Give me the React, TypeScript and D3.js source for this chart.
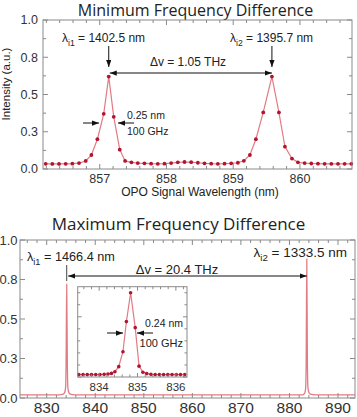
import React from 'react';
import * as d3 from 'd3';

// ---------- data ----------
const topWl = [856.19, 856.29, 856.39, 856.49, 856.59, 856.69, 856.79, 856.875, 856.965, 857.06, 857.135, 857.21, 857.3, 857.38, 857.475, 857.57, 857.67, 857.77, 857.87, 857.97, 858.07, 858.17, 858.27, 858.37, 858.47, 858.57, 858.67, 858.77, 858.87, 858.97, 859.07, 859.16, 859.25, 859.34, 859.45, 859.58, 859.685, 859.775, 859.88, 859.97, 860.07, 860.17, 860.27, 860.37, 860.47, 860.57, 860.67, 860.77];
const topInt = [0.035, 0.034, 0.034, 0.035, 0.036, 0.04, 0.054, 0.094, 0.2, 0.37, 0.62, 0.35, 0.13, 0.054, 0.045, 0.04, 0.038, 0.036, 0.035, 0.036, 0.04, 0.045, 0.047, 0.046, 0.042, 0.038, 0.036, 0.035, 0.036, 0.038, 0.042, 0.055, 0.094, 0.2, 0.38, 0.62, 0.38, 0.15, 0.07, 0.045, 0.04, 0.037, 0.036, 0.035, 0.035, 0.035, 0.035, 0.035];

const botWl = [824.5, 832.5, 833.4, 833.7, 833.9, 834.0, 834.12, 834.24, 834.35, 834.55, 834.85, 835.8, 881.3, 882.7, 883.0, 883.2, 883.35, 883.45, 883.57, 883.69, 883.8, 884.0, 884.3, 885.3, 893.5];
const botInt = [0.02, 0.02, 0.025, 0.035, 0.07, 0.25, 0.72, 0.25, 0.07, 0.035, 0.025, 0.02, 0.02, 0.02, 0.025, 0.035, 0.07, 0.25, 0.88, 0.25, 0.07, 0.035, 0.025, 0.02, 0.02];

const insetWl = [833.47, 833.58, 833.69, 833.8, 833.91, 834.02, 834.13, 834.23, 834.32, 834.41, 834.51, 834.62, 834.71, 834.82, 834.94, 835.04, 835.14, 835.24, 835.35, 835.46, 835.57, 835.68, 835.79, 835.9, 836.01, 836.12, 836.23];
const insetInt = [0.02, 0.02, 0.02, 0.02, 0.02, 0.02, 0.022, 0.025, 0.03, 0.044, 0.086, 0.21, 0.46, 0.7, 0.41, 0.09, 0.04, 0.028, 0.022, 0.02, 0.02, 0.02, 0.02, 0.02, 0.02, 0.02, 0.02];

const yTicks = [0, 0.25, 0.5, 0.75, 1];
const yTickLabels = ['0.0', '0.3', '0.5', '0.8', '1.0'];
const topXTicks = [857, 858, 859, 860];
const botXTicks = [830, 840, 850, 860, 870, 880, 890];
const insetXTicks = [834, 835, 836];

const FRAME = '#8a8a8a';
const LINE = '#e27b83';
const DOT = '#b0142e';
const TXT = '#222';
const SANS = "'Liberation Sans', Arial, sans-serif";
const TITLE = "'Open Sans', 'Noto Sans', sans-serif";

type Sc = d3.ScaleLinear<number, number>;

function Frame({ x, y, xMinorStep, yMinorStep, major = 5, minor = 3 }: { x: Sc; y: Sc; xMinorStep: number; yMinorStep: number; major?: number; minor?: number }) {
  const [x0, x1] = x.range();
  const [y0, y1] = y.range();
  const [dx0, dx1] = x.domain();
  const [dy0, dy1] = y.domain();
  const xs: { v: number; maj: boolean }[] = [];
  for (let v = Math.ceil(dx0 / xMinorStep) * xMinorStep; v <= dx1 + 1e-9; v += xMinorStep) {
    const r = Math.round(v * 1000) / 1000;
    xs.push({ v: r, maj: Math.abs(r - Math.round(r / (xMinorStep * 5)) * xMinorStep * 5) < 1e-6 });
  }
  const ys: { v: number; maj: boolean }[] = [];
  for (let v = Math.ceil(dy0 / yMinorStep) * yMinorStep; v <= dy1 + 1e-9; v += yMinorStep) {
    const r = Math.round(v * 1000) / 1000;
    ys.push({ v: r, maj: Math.abs(r / 0.25 - Math.round(r / 0.25)) < 1e-6 });
  }
  return (
    <g stroke={FRAME} strokeWidth={1} fill="none">
      <rect x={x0} y={y1} width={x1 - x0} height={y0 - y1} />
      {xs.map((t, i) => {
        const px = x(t.v);
        const l = t.maj ? major : minor;
        return (
          <g key={'x' + i}>
            <line x1={px} x2={px} y1={y0} y2={y0 - l} />
            <line x1={px} x2={px} y1={y1} y2={y1 + l} />
          </g>
        );
      })}
      {ys.map((t, i) => {
        const py = y(t.v);
        const l = t.maj ? major : minor;
        return (
          <g key={'y' + i}>
            <line x1={x0} x2={x0 + l} y1={py} y2={py} />
            <line x1={x1} x2={x1 - l} y1={py} y2={py} />
          </g>
        );
      })}
    </g>
  );
}

function Lam({ x, y, sub, rest, fs, anchor = 'start' }: { x: number; y: number; sub: string; rest: string; fs: number; anchor?: string }) {
  return (
    <text x={x} y={y} fontSize={fs} textAnchor={anchor} fill={TXT} fontFamily={SANS}>
      λ
      <tspan dy={fs * 0.3} fontSize={fs * 0.72}>{sub}</tspan>
      <tspan dy={-fs * 0.3}>{rest}</tspan>
    </text>
  );
}

export default function App() {
  const W = 357, H = 417;

  const tx = d3.scaleLinear().domain([856.15, 860.78]).range([43, 352]);
  const ty = d3.scaleLinear().domain([0, 1]).range([169, 20]);
  const topPts = topWl.map((w, i) => [w, topInt[i]] as [number, number]);
  const topLine = d3.line<[number, number]>().x(d => tx(d[0])).y(d => ty(d[1]));

  const bx = d3.scaleLinear().domain([824.5, 893.5]).range([20, 355]);
  const by = d3.scaleLinear().domain([0, 1]).range([398, 240]);
  const botPts = botWl.map((w, i) => [w, botInt[i]] as [number, number]);
  const botLine = d3.line<[number, number]>().x(d => bx(d[0])).y(d => by(d[1])).curve(d3.curveMonotoneX);

  const ix = d3.scaleLinear().domain([833.44, 836.29]).range([77.7, 187]);
  const iy = d3.scaleLinear().domain([0, 0.75]).range([377, 286.7]);
  const insPts = insetWl.map((w, i) => [w, insetInt[i]] as [number, number]);
  const insLine = d3.line<[number, number]>().x(d => ix(d[0])).y(d => iy(d[1]));

  const p1 = tx(857.135), p2 = tx(859.58);
  const b1 = bx(834.12), b2 = bx(883.57);

  return (
    <svg width={W} height={H} style={{ position: 'absolute', left: 0, top: 0, background: '#fff' }}>
      <defs>
        <marker id="ah" viewBox="0 0 8 6" refX={8} refY={3} markerWidth={7} markerHeight={5.5} markerUnits="userSpaceOnUse" orient="auto-start-reverse">
          <path d="M0,0 L8,3 L0,6 z" fill="#111" />
        </marker>
      </defs>
      <rect x={0} y={0} width={W} height={H} fill="#fff" />

      {/* ---------- TOP ---------- */}
      <text x={195.5} y={15.5} textAnchor="middle" fontSize={16} fontFamily={TITLE} fill={TXT}>Minimum Frequency Difference</text>
      <path d={topLine(topPts) || ''} fill="none" stroke={LINE} strokeWidth={1.2} />
      {topPts.map((d, i) => (
        <circle key={i} cx={tx(d[0])} cy={ty(d[1])} r={1.9} fill={DOT} />
      ))}
      <Frame x={tx} y={ty} xMinorStep={0.2} yMinorStep={0.125} />
      {yTicks.map((v, i) => (
        <text key={i} x={38} y={ty(v) + 4.3} textAnchor="end" fontSize={12.5} fontFamily={SANS} fill="#333">{yTickLabels[i]}</text>
      ))}
      {topXTicks.map(v => (
        <text key={v} x={tx(v)} y={183} textAnchor="middle" fontSize={12.5} fontFamily={SANS} fill="#333">{v}</text>
      ))}
      <text x={200} y={195.5} textAnchor="middle" fontSize={12} fontFamily={SANS} fill={TXT}>OPO Signal Wavelength (nm)</text>
      <text transform="translate(10,84) rotate(-90)" textAnchor="middle" fontSize={11.5} fontFamily={SANS} fill={TXT}>Intensity (a.u.)</text>

      <Lam x={62} y={42} sub="i1" rest=" = 1402.5 nm" fs={12} />
      <Lam x={230} y={42} sub="i2" rest=" = 1395.7 nm" fs={12} />
      <line x1={p1} x2={p1} y1={46} y2={67} stroke="#111" strokeWidth={1} markerEnd="url(#ah)" />
      <line x1={p2} x2={p2} y1={46} y2={67} stroke="#111" strokeWidth={1} markerEnd="url(#ah)" />
      <text x={188} y={66} textAnchor="middle" fontSize={12} fontFamily={SANS} fill={TXT}>Δv = 1.05 THz</text>
      <line x1={p1 + 1} x2={p2} y1={73} y2={73} stroke="#111" strokeWidth={1} markerStart="url(#ah)" markerEnd="url(#ah)" />
      <line x1={83} x2={99} y1={123} y2={123} stroke="#111" strokeWidth={1} markerEnd="url(#ah)" />
      <line x1={134} x2={118} y1={123} y2={123} stroke="#111" strokeWidth={1} markerEnd="url(#ah)" />
      <text x={127} y={118.5} fontSize={10.5} fontFamily={SANS} fill={TXT}>0.25 nm</text>
      <text x={127} y={135} fontSize={10.5} fontFamily={SANS} fill={TXT}>100 GHz</text>

      {/* ---------- BOTTOM ---------- */}
      <text x={178.5} y={230} textAnchor="middle" fontSize={17} fontFamily={TITLE} fill={TXT}>Maximum Frequency Difference</text>
      <path d={botLine(botPts) || ''} fill="none" stroke={LINE} strokeWidth={1.3} />
      <Frame x={bx} y={by} xMinorStep={2} yMinorStep={0.125} />
      {yTicks.map((v, i) => (
        <text key={i} x={17.5} y={by(v) + 4.6} textAnchor="end" fontSize={13} fontFamily={SANS} fill="#333">{yTickLabels[i]}</text>
      ))}
      {botXTicks.map(v => (
        <text key={v} x={bx(v)} y={413} textAnchor="middle" fontSize={15.5} fontFamily={SANS} fill="#333">{v}</text>
      ))}
      <Lam x={27} y={261} sub="i1" rest=" = 1466.4 nm" fs={12.7} />
      <Lam x={347} y={257} sub="i2" rest=" = 1333.5 nm" fs={13.5} anchor="end" />
      <line x1={b1} x2={b1} y1={265} y2={281} stroke="#444" strokeWidth={1} />
      <text x={177} y={274} textAnchor="middle" fontSize={13} fontFamily={SANS} fill={TXT}>Δv = 20.4 THz</text>
      <line x1={b1 + 1.5} x2={b2} y1={276} y2={276} stroke="#111" strokeWidth={1} markerStart="url(#ah)" markerEnd="url(#ah)" />

      {/* inset */}
      <rect x={77.7} y={286.7} width={187 - 77.7} height={377 - 286.7} fill="#fff" />
      <path d={insLine(insPts) || ''} fill="none" stroke={LINE} strokeWidth={1.2} />
      {insPts.map((d, i) => (
        <circle key={i} cx={ix(d[0])} cy={iy(d[1])} r={1.8} fill={DOT} />
      ))}
      <Frame x={ix} y={iy} xMinorStep={0.2} yMinorStep={0.1} major={4} minor={2.5} />
      {insetXTicks.map(v => (
        <text key={v} x={ix(v)} y={391} textAnchor="middle" fontSize={11.5} fontFamily={SANS} fill="#333">{v}</text>
      ))}
      <line x1={107} x2={123} y1={333} y2={333} stroke="#111" strokeWidth={1} markerEnd="url(#ah)" />
      <line x1={153} x2={137} y1={333} y2={333} stroke="#111" strokeWidth={1} markerEnd="url(#ah)" />
      <text x={183} y={327} textAnchor="end" fontSize={10.5} fontFamily={SANS} fill={TXT}>0.24 nm</text>
      <text x={183} y={347} textAnchor="end" fontSize={11} fontFamily={SANS} fill={TXT}>100 GHz</text>
    </svg>
  );
}
